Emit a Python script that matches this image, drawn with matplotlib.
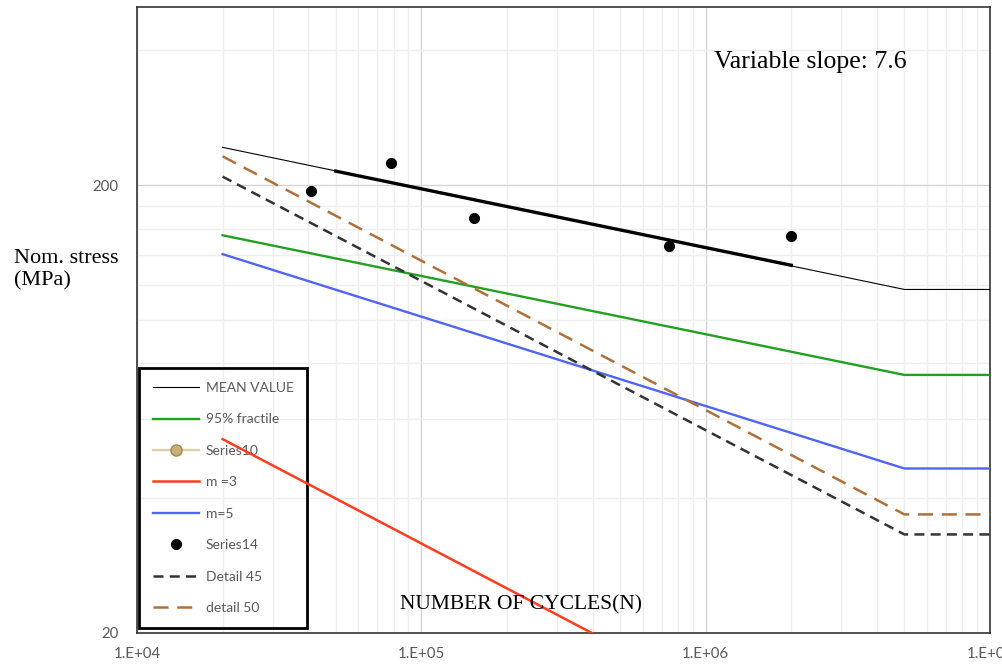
import numpy as np
import matplotlib
matplotlib.use("Agg")
import matplotlib.pyplot as plt
from matplotlib.ticker import FixedLocator, NullFormatter, LogLocator

# S-N curve data (cycles, nominal stress MPa)
n_curve = [2e4, 5e6, 1e7]
mean_value = [243, 117, 117]
fractile_95 = [154.6, 75.4, 75.4]
m3 = [54.2, 8.6, 8.6]
m5 = [140.3, 46.6, 46.6]
detail_45 = [209, 33.2, 33.2]
detail_50 = [232, 36.8, 36.8]

# regression segment over test range
n_fit = [5e4, 2e6]
s_fit = [215, 132.5]

# test results
n_test = [4.1e4, 7.8e4, 1.53e5, 7.45e5, 2.0e6]
s_test = [194, 224, 168.7, 146, 153.8]

x_ticks = [1e4, 1e5, 1e6, 1e7]
x_labels = ["1.E+04", "1.E+05", "1.E+06", "1.E+07"]
y_ticks = [20, 200]
y_labels = ["20", "200"]

fig = plt.figure(figsize=(10.03, 6.68), dpi=100)
ax = fig.add_axes([137 / 1003, 1 - 633 / 668, 853 / 1003, 626 / 668])
ax.set_xscale("log")
ax.set_yscale("log")
ax.set_xlim(1e4, 1e7)
ax.set_ylim(20, 500)

ax.plot(n_curve, mean_value, color="black", lw=0.8, label="MEAN VALUE", zorder=4)
ax.plot(n_curve, fractile_95, color="#22a022", lw=1.7, label="95% fractile", zorder=3)
ax.plot([], [], color="#dccfa8", lw=1.7, marker="o", markersize=8, markerfacecolor="#c8b078",
        markeredgecolor="#a08850", label="Series10")
ax.plot(n_curve, m3, color="#ff3d1f", lw=1.8, label="m =3", zorder=6)
ax.plot(n_curve, m5, color="#5064f5", lw=1.7, label="m=5", zorder=3)
ax.plot(n_test, s_test, "o", color="black", markersize=7, label="Series14", zorder=5)
ax.plot(n_curve, detail_45, color="#333333", lw=1.8, dashes=(4, 2.5), label="Detail 45", zorder=3)
ax.plot(n_curve, detail_50, color="#b0703a", lw=1.8, dashes=(6, 3.5), label="detail 50", zorder=3)
ax.plot(n_fit, s_fit, color="black", lw=2.4, label="_nolegend_", zorder=4)

# grid
ax.xaxis.set_major_locator(FixedLocator(x_ticks))
ax.xaxis.set_minor_locator(LogLocator(base=10, subs=np.arange(2, 10)))
ax.xaxis.set_minor_formatter(NullFormatter())
ax.set_xticklabels(x_labels)
ax.yaxis.set_major_locator(FixedLocator(y_ticks))
ax.yaxis.set_minor_locator(FixedLocator([20 * k for k in range(2, 10)] + [400]))
ax.yaxis.set_minor_formatter(NullFormatter())
ax.set_yticklabels(y_labels)
ax.grid(which="major", color="#d4d4d4", lw=1.0)
ax.grid(which="minor", color="#eeeeee", lw=1.0)
ax.set_axisbelow(True)
ax.tick_params(which="both", length=0, labelsize=10.8, labelcolor="#595959")
ax.tick_params(axis="x", pad=10)
ax.tick_params(axis="y", pad=13.5)
for lab in ax.get_xticklabels() + ax.get_yticklabels():
    lab.set_family("Lato")
for sp in ax.spines.values():
    sp.set_color("#333333")
    sp.set_linewidth(1.2)

leg = ax.legend(loc="lower left", bbox_to_anchor=(2 / 853, 5 / 626), borderaxespad=0,
                labelspacing=1.4, handlelength=3.3, handletextpad=0.5, borderpad=1.0,
                fancybox=False, prop={"family": "Lato", "size": 10})
frame = leg.get_frame()
frame.set_facecolor("none")
frame.set_edgecolor("black")
frame.set_alpha(None)
frame.set_linewidth(2)
leg.set_zorder(5)
for t in leg.get_texts():
    t.set_color("#595959")

fig.text(810 / 1003, 1 - 62 / 668, "Variable slope: 7.6", family="Liberation Serif",
         fontsize=18.5, ha="center", va="center")
fig.text(521 / 1003, 1 - 605 / 668, "NUMBER OF CYCLES(N)", family="Liberation Serif",
         fontsize=15.5, ha="center", va="center")
fig.text(14 / 1003, 1 - 270 / 668, "Nom. stress\n(MPa)", family="Liberation Serif",
         fontsize=16, ha="left", va="center", linespacing=1.2)

fig.savefig("out.png", dpi=100)
